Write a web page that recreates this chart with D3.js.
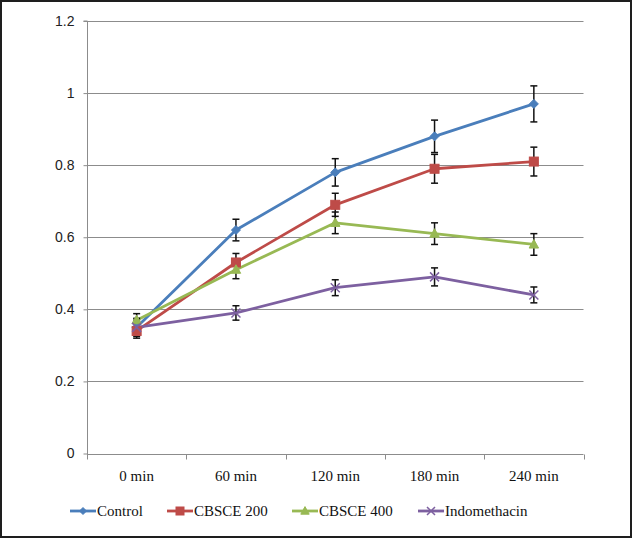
<!DOCTYPE html>
<html><head><meta charset="utf-8">
<script src="https://cdn.jsdelivr.net/npm/d3@7"></script>
<style>html,body{margin:0;padding:0;background:#fff;}svg{display:block;}</style>
</head><body>
<svg id="chart" width="632" height="538"></svg>
<script>
const categories = ["0 min", "60 min", "120 min", "180 min", "240 min"];
const seriesNames = ["Control", "CBSCE 200", "CBSCE 400", "Indomethacin"];
const controlValues = [0.35, 0.62, 0.78, 0.88, 0.97];
const controlErrors = [0.025, 0.03, 0.038, 0.045, 0.05];
const cbsce200Values = [0.34, 0.53, 0.69, 0.79, 0.81];
const cbsce200Errors = [0.02, 0.025, 0.032, 0.04, 0.04];
const cbsce400Values = [0.37, 0.51, 0.64, 0.61, 0.58];
const cbsce400Errors = [0.018, 0.025, 0.03, 0.03, 0.03];
const indoValues = [0.35, 0.39, 0.46, 0.49, 0.44];
const indoErrors = [0.02, 0.02, 0.022, 0.025, 0.022];
const yTicks = [0, 0.2, 0.4, 0.6, 0.8, 1, 1.2];
const colors = ["#4A7EBB", "#BE4B48", "#98B954", "#7D60A0"];
const markers = ["diamond", "square", "triangle", "x"];

(function () {
const series = [
  {name: seriesNames[0], values: controlValues, errors: controlErrors},
  {name: seriesNames[1], values: cbsce200Values, errors: cbsce200Errors},
  {name: seriesNames[2], values: cbsce400Values, errors: cbsce400Errors},
  {name: seriesNames[3], values: indoValues, errors: indoErrors}
];

const svg = d3.select("#chart");
const W = 632, H = 538;
svg.append("rect").attr("x", 1).attr("y", 1).attr("width", W - 2).attr("height", H - 2)
  .attr("fill", "#fff").attr("stroke", "#1e1e1e").attr("stroke-width", 2);

const pLeft = 87, pRight = 583.5, pTop = 21, pBottom = 453.5;
const x = d3.scaleBand().domain(categories).range([pLeft, pRight]);
const y = d3.scaleLinear().domain([0, 1.2]).range([pBottom, pTop]);

svg.append("g").selectAll("line").data(yTicks.filter(d => d > 0)).join("line")
  .attr("x1", pLeft).attr("x2", pRight)
  .attr("y1", d => Math.round(y(d)) + 0.5).attr("y2", d => Math.round(y(d)) + 0.5)
  .attr("stroke", "#8c8c8c").attr("stroke-width", 1);

const yAxis = d3.axisLeft(y).tickValues(yTicks).tickSize(4).tickPadding(9)
  .tickFormat(d => String(+d.toFixed(1)));
const gy = svg.append("g").attr("transform", `translate(${pLeft + 0.5},0)`).call(yAxis);
gy.select(".domain").attr("stroke", "#8c8c8c").attr("d", `M-4,${pTop}H0V${pBottom + 5}`);
gy.selectAll(".tick line").attr("stroke", "#8c8c8c");
gy.selectAll(".tick text").attr("font-family", "Liberation Sans, Arial, sans-serif")
  .attr("font-size", 14).attr("fill", "#222");

const xAxis = d3.axisBottom(x).tickSize(0).tickPadding(16);
const gx = svg.append("g").attr("transform", `translate(0,${Math.round(pBottom) + 0.5})`).call(xAxis);
gx.select(".domain").attr("stroke", "#8c8c8c").attr("d", `M${pLeft},0H${pRight}`);
gx.selectAll(".tick text").attr("font-family", "Liberation Serif, Times New Roman, serif")
  .attr("font-size", 15).attr("fill", "#111");
const bounds = categories.map(c => x(c)).concat([pRight]);
gx.append("g").selectAll("line").data(bounds).join("line")
  .attr("x1", d => Math.round(d) + 0.5).attr("x2", d => Math.round(d) + 0.5)
  .attr("y1", 0).attr("y2", 5).attr("stroke", "#8c8c8c");

const cx = c => x(c) + x.bandwidth() / 2;

function drawMarker(g, type, color, px, py, s) {
  if (type === "diamond") {
    g.append("path").attr("d", `M${px},${py - s}L${px + s},${py}L${px},${py + s}L${px - s},${py}Z`)
      .attr("fill", color).attr("stroke", color).attr("stroke-width", 1);
  } else if (type === "square") {
    g.append("rect").attr("x", px - s).attr("y", py - s).attr("width", 2 * s).attr("height", 2 * s)
      .attr("fill", color).attr("stroke", color).attr("stroke-width", 1);
  } else if (type === "triangle") {
    g.append("path").attr("d", `M${px},${py - s * 1.1}L${px + s * 1.05},${py + s * 0.8}L${px - s * 1.05},${py + s * 0.8}Z`)
      .attr("fill", color).attr("stroke", color).attr("stroke-width", 1);
  } else {
    g.append("path").attr("d", `M${px - s},${py - s}L${px + s},${py + s}M${px - s},${py + s}L${px + s},${py - s}`)
      .attr("fill", "none").attr("stroke", color).attr("stroke-width", 1.5);
  }
}

const line = d3.line().x((d, i) => cx(categories[i])).y(d => y(d));

series.forEach((s, k) => {
  svg.append("path").datum(s.values).attr("d", line)
    .attr("fill", "none").attr("stroke", colors[k]).attr("stroke-width", 2.8)
    .attr("stroke-linejoin", "round");
});

series.forEach((s, k) => {
  const g = svg.append("g");
  s.values.forEach((v, i) => {
    const px = cx(categories[i]);
    const y1 = y(v + s.errors[i]), y2 = y(v - s.errors[i]);
    g.append("line").attr("x1", px).attr("x2", px).attr("y1", y1).attr("y2", y2)
      .attr("stroke", "#111").attr("stroke-width", 1.5);
    [y1, y2].forEach(yy => g.append("line").attr("x1", px - 3.5).attr("x2", px + 3.5)
      .attr("y1", yy).attr("y2", yy).attr("stroke", "#111").attr("stroke-width", 1.5));
  });
});

series.forEach((s, k) => {
  const g = svg.append("g");
  s.values.forEach((v, i) => {
    drawMarker(g, markers[k], colors[k], cx(categories[i]), y(v), 4.5);
  });
});

const legendX = [70, 167, 292, 418];
const legendY = 511;
series.forEach((s, k) => {
  const g = svg.append("g");
  const x0 = legendX[k];
  g.append("line").attr("x1", x0).attr("x2", x0 + 26).attr("y1", legendY).attr("y2", legendY)
    .attr("stroke", colors[k]).attr("stroke-width", 2.8);
  drawMarker(g, markers[k], colors[k], x0 + 13, legendY, k === 0 ? 3.5 : 4);
  g.append("text").attr("x", x0 + 27).attr("y", legendY + 5)
    .attr("font-family", "Liberation Serif, Times New Roman, serif").attr("font-size", 15)
    .attr("fill", "#111").text(s.name);
});
})();
</script>
</body></html>
